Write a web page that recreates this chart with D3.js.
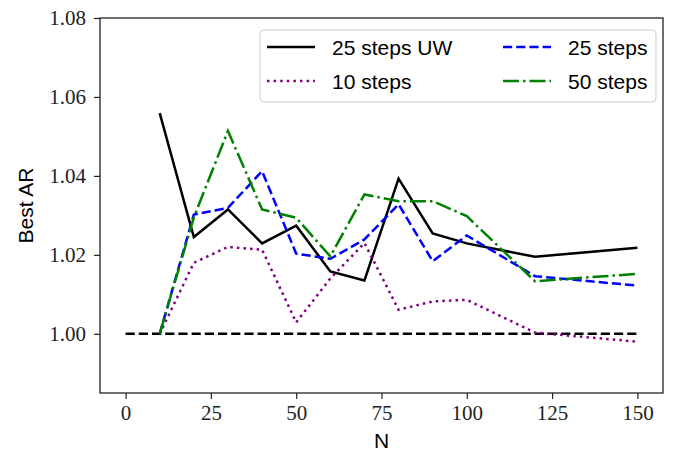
<!DOCTYPE html>
<html>
<head>
<meta charset="utf-8">
<script src="https://cdn.jsdelivr.net/npm/d3@7"></script>
<style>
  body { margin: 0; background: #fff; }
</style>
</head>
<body>
<div id="viz"></div>
<script>
// data
var nVals = [10, 20, 30, 40, 50, 60, 70, 80, 90, 100, 120, 150];
var uw25 = [1.0559, 1.0245, 1.0315, 1.0229, 1.0274, 1.0158, 1.0135, 1.0393, 1.0254, 1.0229, 1.0195, 1.0218];
var steps10 = [1.0000, 1.0180, 1.0220, 1.0213, 1.0029, 1.0140, 1.0230, 1.0061, 1.0082, 1.0086, 1.0003, 0.9980];
var steps25 = [1.0000, 1.0302, 1.0319, 1.0412, 1.0203, 1.0190, 1.0239, 1.0328, 1.0184, 1.0249, 1.0146, 1.0122];
var steps50 = [1.0000, 1.0295, 1.0514, 1.0315, 1.0294, 1.0196, 1.0353, 1.0336, 1.0336, 1.0298, 1.0133, 1.0152];
var baseline = [[0, 1.0], [150, 1.0]];
var xTicks = [0, 25, 50, 75, 100, 125, 150];
var yTicks = [1.00, 1.02, 1.04, 1.06, 1.08];

var series = [
  {name: "25 steps UW", values: uw25, color: "black", dash: null},
  {name: "10 steps", values: steps10, color: "purple", dash: "2.5,4.1"},
  {name: "25 steps", values: steps25, color: "blue", dash: "9.2,4"},
  {name: "50 steps", values: steps50, color: "green", dash: "16,4,2.5,4"}
];

var W = 679, H = 455;
var margin = {top: 18, right: 16, bottom: 62, left: 100};
var lw = 2.5;

var svg = d3.select("#viz").append("svg")
    .attr("width", W)
    .attr("height", H);

var x = d3.scaleLinear().domain([-7.5, 157.5]).range([margin.left, W - margin.right]);
var y = d3.scaleLinear().domain([0.985, 1.08]).range([H - margin.bottom, margin.top]);

var line = d3.line()
    .x(function(d) { return x(d[0]); })
    .y(function(d) { return y(d[1]); });

// dashed reference line at 1
svg.append("path")
    .datum(baseline)
    .attr("d", line)
    .attr("fill", "none")
    .attr("stroke", "black")
    .attr("stroke-width", lw)
    .attr("stroke-dasharray", "9.2,4");

series.forEach(function(s) {
  svg.append("path")
      .datum(nVals.map(function(n, i) { return [n, s.values[i]]; }))
      .attr("d", line)
      .attr("fill", "none")
      .attr("stroke", s.color)
      .attr("stroke-width", lw)
      .attr("stroke-dasharray", s.dash);
});

// axes
var xAxis = svg.append("g")
    .attr("transform", "translate(0," + (H - margin.bottom) + ")")
    .call(d3.axisBottom(x).tickValues(xTicks).tickSize(6).tickPadding(6).tickFormat(d3.format("d")));
var yAxis = svg.append("g")
    .attr("transform", "translate(" + margin.left + ",0)")
    .call(d3.axisLeft(y).tickValues(yTicks).tickSize(6).tickPadding(8).tickFormat(d3.format(".2f")));

[xAxis, yAxis].forEach(function(a) {
  a.select(".domain").remove();
  a.selectAll(".tick line").attr("stroke", "#222").attr("stroke-width", 1.2);
  a.selectAll(".tick text")
      .attr("font-family", "Liberation Serif, serif")
      .attr("font-size", 21)
      .attr("fill", "#222");
});

// frame
svg.append("rect")
    .attr("x", margin.left)
    .attr("y", margin.top)
    .attr("width", W - margin.left - margin.right)
    .attr("height", H - margin.top - margin.bottom)
    .attr("fill", "none")
    .attr("stroke", "#222")
    .attr("stroke-width", 1.3);

// axis labels
svg.append("text")
    .attr("x", (margin.left + W - margin.right) / 2)
    .attr("y", H - 7)
    .attr("text-anchor", "middle")
    .attr("font-family", "Liberation Sans, sans-serif")
    .attr("font-size", 21)
    .text("N");

svg.append("text")
    .attr("transform", "translate(33," + ((margin.top + H - margin.bottom) / 2) + ") rotate(-90)")
    .attr("text-anchor", "middle")
    .attr("font-family", "Liberation Sans, sans-serif")
    .attr("font-size", 21)
    .text("Best AR");

// legend
var legend = svg.append("g");
legend.append("rect")
    .attr("x", 260)
    .attr("y", 30)
    .attr("width", 396)
    .attr("height", 72)
    .attr("rx", 4)
    .attr("fill", "white")
    .attr("fill-opacity", 0.8)
    .attr("stroke", "#ccc");

var legendPos = [
  {x: 267, y: 47}, {x: 267, y: 81}, {x: 503, y: 47}, {x: 503, y: 81}
];
series.forEach(function(s, i) {
  var p = legendPos[i];
  legend.append("line")
      .attr("x1", p.x).attr("x2", p.x + 48)
      .attr("y1", p.y).attr("y2", p.y)
      .attr("stroke", s.color)
      .attr("stroke-width", lw)
      .attr("stroke-dasharray", s.dash);
  legend.append("text")
      .attr("x", p.x + 65)
      .attr("y", p.y + 7.5)
      .attr("font-family", "Liberation Sans, sans-serif")
      .attr("font-size", 21)
      .text(s.name);
});
</script>
</body>
</html>
